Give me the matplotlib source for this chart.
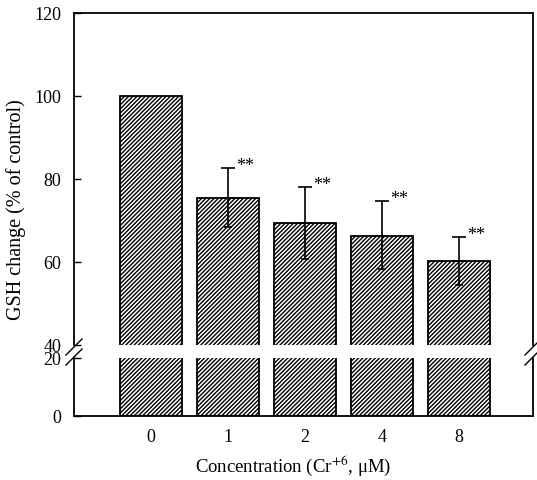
import matplotlib
matplotlib.use("Agg")
import matplotlib.pyplot as plt
from matplotlib.lines import Line2D
import numpy as np

categories = ["0", "1", "2", "4", "8"]
values = [100.0, 75.4, 69.4, 66.3, 60.2]
err_up = [0.0, 7.2, 8.6, 8.3, 5.9]
err_down = [0.0, 7.0, 8.7, 8.1, 5.7]
stars = ["", "**", "**", "**", "**"]
upper_ticks = [40, 60, 80, 100, 120]
lower_ticks = [0, 20]

plt.rcParams['font.family'] = ['Liberation Serif', 'DejaVu Serif']
plt.rcParams['hatch.linewidth'] = 1.0
plt.rcParams['mathtext.fontset'] = 'stix'

W, H = 537, 481
fig = plt.figure(figsize=(W/100, H/100), dpi=100)

x0, x1 = 74, 533
yt0, yt1 = 14, 346
yb0, yb1 = 359, 417
ax_top = fig.add_axes([x0/W, 1-yt1/H, (x1-x0)/W, (yt1-yt0)/H])
ax_bot = fig.add_axes([x0/W, 1-yb1/H, (x1-x0)/W, (yb1-yb0)/H])

x = np.arange(len(categories))
for ax in (ax_top, ax_bot):
    ax.bar(x, values, width=0.8, color='white', edgecolor='black', hatch='////////', linewidth=1.3, zorder=2)
    ax.set_xlim(-1.0, 4.96)
    for s in ax.spines.values():
        s.set_linewidth(1.3)
    ax.tick_params(axis='y', direction='in', length=5, width=1.0, labelsize=13, pad=9)

ax_top.set_ylim(40, 120)
ax_top.set_yticks(upper_ticks)
ax_top.spines['bottom'].set_visible(False)
ax_top.set_xticks([])

ax_bot.set_ylim(0, 20)
ax_bot.set_yticks(lower_ticks)
ax_bot.spines['top'].set_visible(False)
ax_bot.set_xticks(x)
ax_bot.set_xticklabels(categories)
ax_bot.tick_params(axis='x', length=0, labelsize=13, pad=9)

# error bars
idx = x[1:]
ax_top.errorbar(idx, np.array(values)[1:], yerr=[np.zeros(4), np.array(err_up)[1:]],
                fmt='none', ecolor='black', elinewidth=1.2, capsize=5, capthick=1.2, zorder=3)
ax_top.errorbar(idx, np.array(values)[1:], yerr=[np.array(err_down)[1:], np.zeros(4)],
                fmt='none', ecolor='black', elinewidth=1.2, capsize=3, capthick=1.2, zorder=3)
for i in idx:
    ax_top.text(i + 0.11, values[i] + err_up[i] + 0.6, stars[i], fontsize=13, ha='left', va='center')

# break marks
def brk(xc, yc):
    fig.add_artist(Line2D([(xc-8)/W, (xc+8)/W], [1-(yc+8)/H, 1-(yc-8)/H],
                          color='black', lw=1.0, transform=fig.transFigure))
for xc in (x0, x1):
    brk(xc, 348)
    brk(xc, 358)

fig.text(16/W, 1-210/H, "GSH change (% of control)", rotation=90, ha='center', va='center', fontsize=14.5)
fig.text(293/W, 1-466/H, r"Concentration (Cr$^{+6}$, μM)", ha='center', va='center', fontsize=13.5)

fig.savefig("out.png", dpi=100)
